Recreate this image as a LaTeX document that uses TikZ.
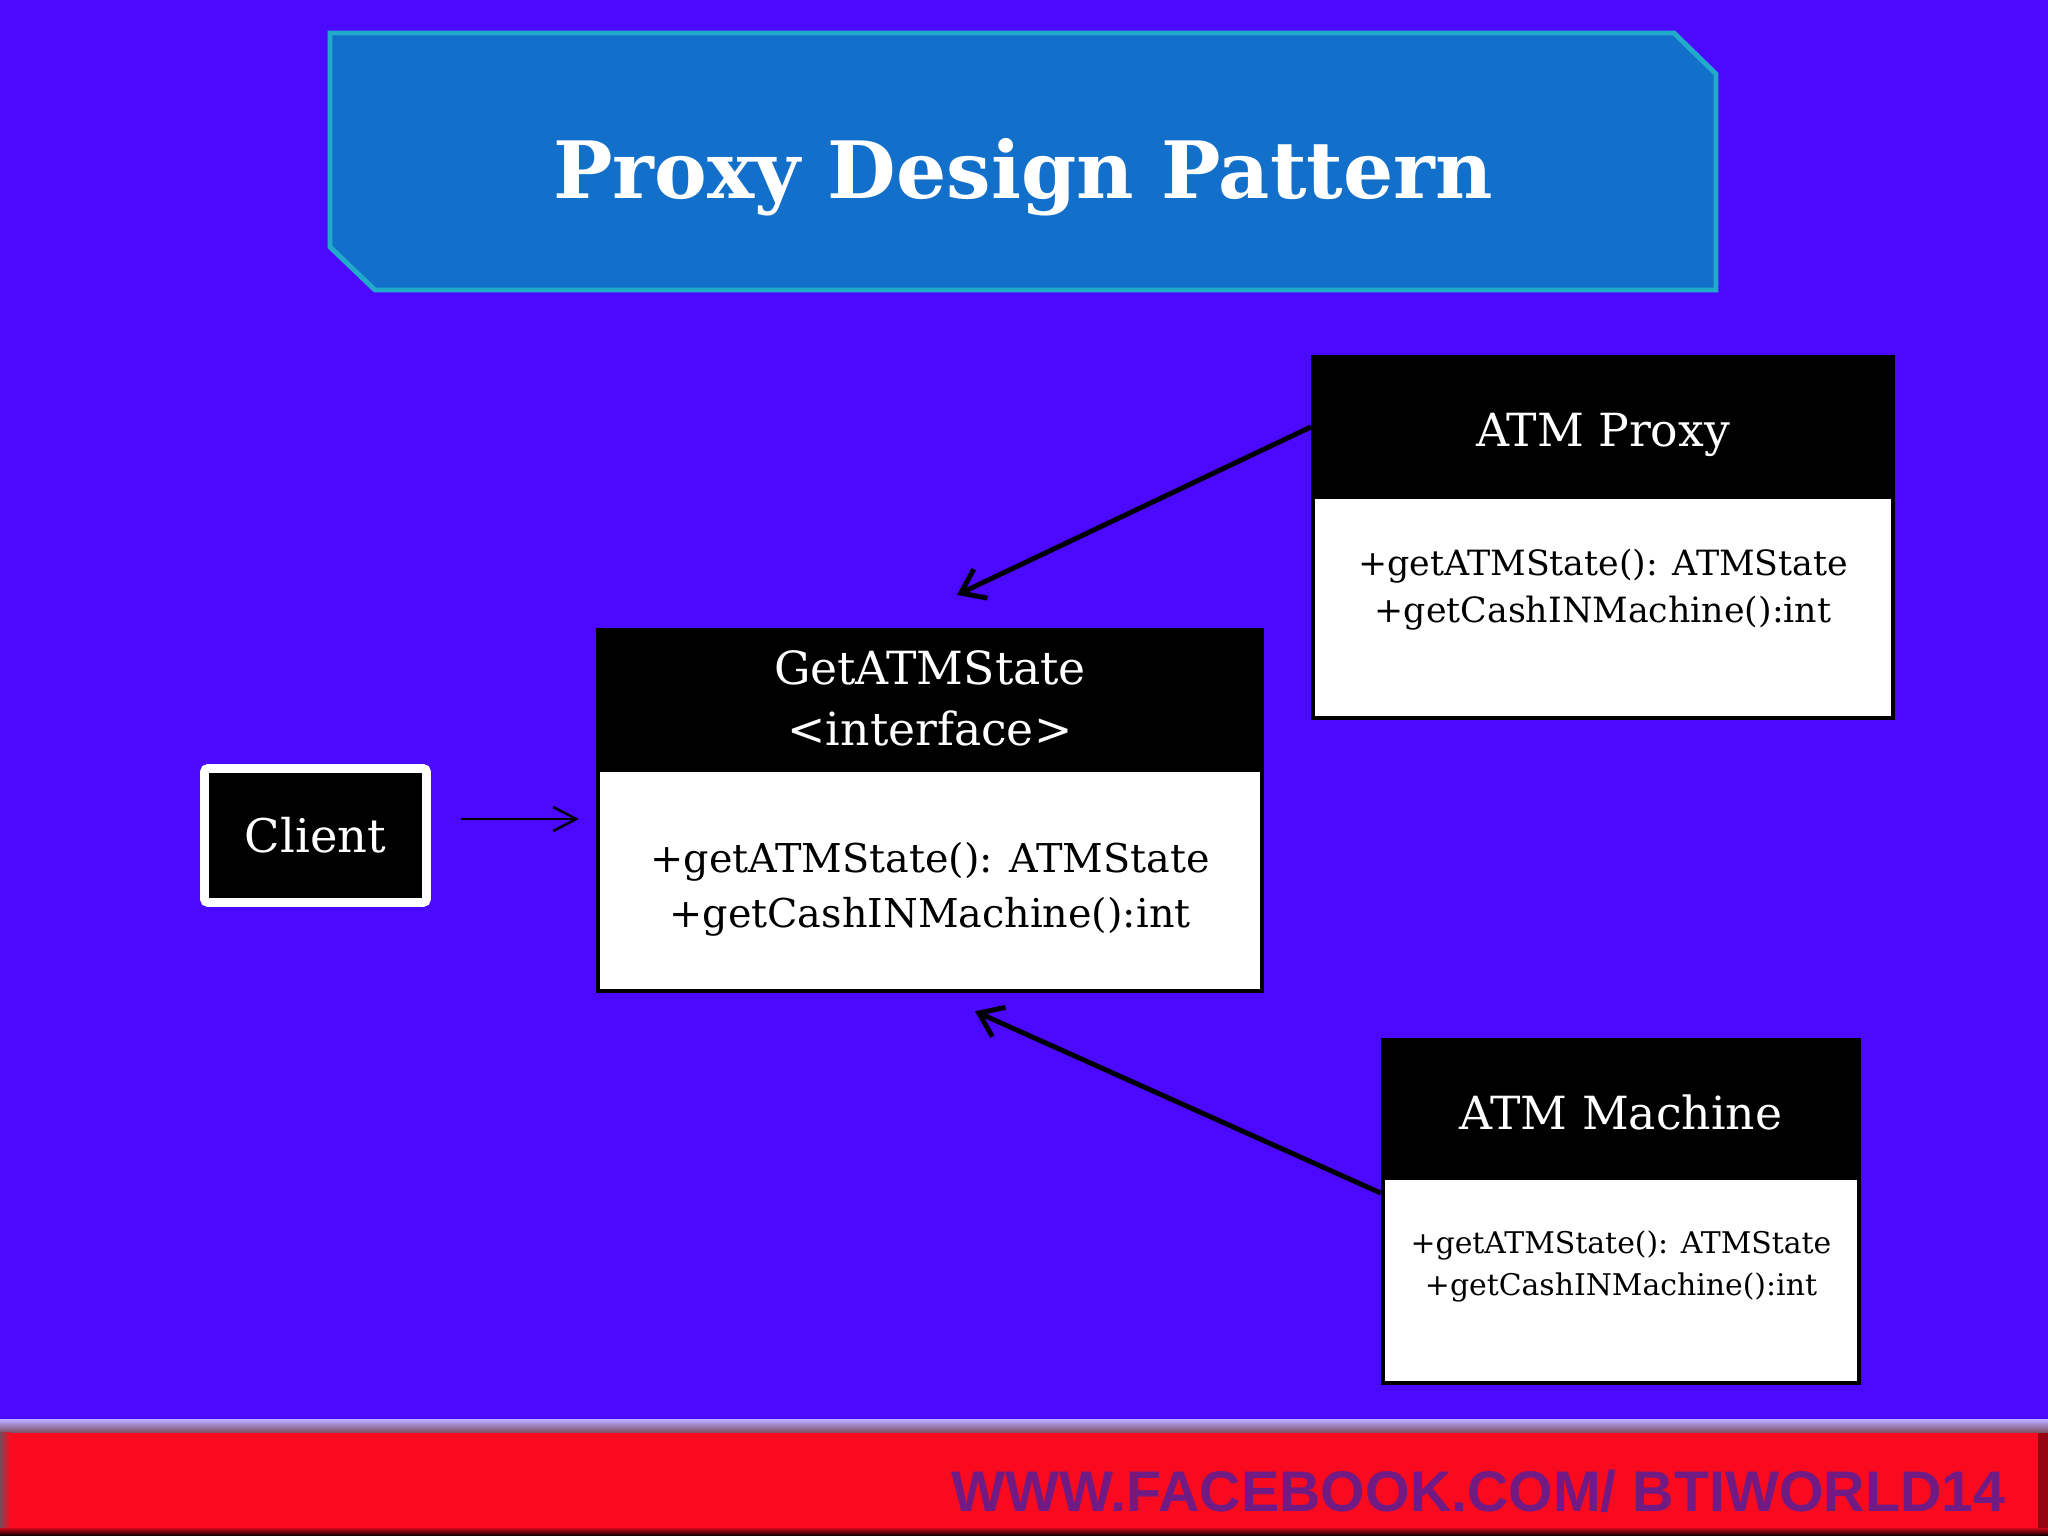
\documentclass[tikz,border=0pt]{standalone}
\usepackage{fontspec}
\setmainfont{DejaVu Serif}
\newfontfamily\footfont{Liberation Sans}
\usepackage{tikz}
\usetikzlibrary{
  arrows.meta,
  positioning,
  calc
}
\definecolor{pdBack}{HTML}{4B0AFF}
\definecolor{pdTitle}{HTML}{126FCA}
\definecolor{pdTitleEdge}{HTML}{22AACB}
\definecolor{pdFoot}{HTML}{FA0A1E}
\definecolor{pdFootHi}{HTML}{B8A8FF}
\definecolor{pdFootLo}{HTML}{7A4A5A}
\definecolor{pdFootText}{HTML}{721A84}
\newcommand{\lowered}[2]{\raisebox{-#1}[\height][\depth]{#2}}
\tikzset{
  classhead/.style={
    draw=black, fill=black, text=white, line width=1.2pt, inner sep=0pt,
    minimum height=1.36cm, font=\fontsize{13}{17.3}\selectfont, align=center
  },
  classbody/.style={
    draw=black, fill=white, line width=1.2pt, inner sep=0pt, minimum height=2.21cm
  },
  methods/.style={align=center, inner sep=0pt, text=black},
  clientbox/.style={
    draw=white, fill=black, text=white, line width=2.5pt, rounded corners=1pt,
    minimum width=2.22cm, minimum height=1.34cm, font=\fontsize{13.2}{15}\selectfont
  },
  titlebox/.style={fill=pdTitle, draw=pdTitleEdge, line width=1.4pt},
  titletext/.style={text=white, font=\bfseries\fontsize{22.5}{26}\selectfont, inner sep=0pt},
  foottext/.style={text=pdFootText, font=\footfont\bfseries\fontsize{16.3}{18}\selectfont, inner sep=0pt},
  uses/.style={-{Straight Barb[length=2.3mm, width=2.4mm]}, line width=0.7pt, black},
  realizes/.style={-{Straight Barb[length=2.2mm, width=3.2mm]}, line width=1.4pt, black}
}
\begin{document}
\begin{tikzpicture}
  % background and margins
  \fill[pdBack] (0,0) rectangle (20.48,15.36);
  \useasboundingbox (0,0) rectangle (20.48,15.36);

  % title banner
  \draw[titlebox] (3.30,15.03) -- (16.74,15.03) -- (17.16,14.62) -- (17.16,12.46)
    -- (3.75,12.46) -- (3.30,12.89) -- cycle;
  \node[titletext, anchor=base] (title) at (10.23,13.375) {Proxy Design Pattern};

  % interface
  \node[classhead, minimum width=6.64cm] (ihead) at (9.30,8.38) {GetATMState\\<interface>};
  \node[classbody, minimum width=6.64cm, below=0pt of ihead] (ibody) {};
  \node[methods, font=\fontsize{11.3}{15.6}\selectfont] (itext) at ([yshift=-0.09cm]ibody.center)
    {+getATMState(): ATMState\\+getCashINMachine():int};

  % proxy
  \node[classhead, minimum width=5.80cm] (phead) at (16.03,11.11) {\lowered{0.1cm}{ATM Proxy}};
  \node[classbody, minimum width=5.80cm, below=0pt of phead] (pbody) {};
  \node[methods, font=\fontsize{9.9}{13.4}\selectfont] (ptext) at ([yshift=0.18cm]pbody.center)
    {+getATMState(): ATMState\\+getCashINMachine():int};

  % real machine
  \node[classhead, minimum width=4.76cm, minimum height=1.34cm] (mhead) at (16.21,4.29) {\lowered{0.05cm}{ATM Machine}};
  \node[classbody, minimum width=4.76cm, minimum height=2.05cm, below=0pt of mhead] (mbody) {};
  \node[methods, font=\fontsize{8.5}{12}\selectfont] (mtext) at ([yshift=0.145cm]mbody.center)
    {+getATMState(): ATMState\\+getCashINMachine():int};

  % client
  \node[clientbox] (client) at (3.155,7.005) {Client};

  % connectors
  \coordinate (ctail) at ([xshift=0.30cm, yshift=0.165cm]client.east);
  \coordinate (chead) at ([xshift=-0.17cm]ctail -| ibody.west);
  \coordinate (ptip) at ([xshift=0.27cm, yshift=0.33cm]ihead.north);
  \coordinate (mtip) at ([xshift=0.45cm, yshift=-0.18cm]ibody.south);
  \coordinate (mtail) at ([yshift=-0.17cm]mbody.north west);
  \draw[uses] (ctail) -- (chead);
  \draw[realizes] ([yshift=-0.02cm]phead.west) -- (ptip);
  \draw[realizes] (mtail) -- (mtip);

  % footer band
  \shade[top color=pdFootHi, bottom color=pdFootLo] (0,1.03) rectangle (20.48,1.16);
  \fill[pdFoot] (0,0.03) rectangle (20.38,1.03);
  \shade[left color=pdFootLo, right color=pdFoot] (0,0.03) rectangle (0.1,1.03);
  \fill[pdFoot!60!black] (20.38,0) rectangle (20.48,1.03);
  \shade[top color=pdFoot!70!black, bottom color=black] (0,0) rectangle (20.48,0.07);
  \node[foottext, anchor=base west] (fbook) at (9.51,0.24) {WWW.FACEBOOK.COM/ BTIWORLD14};
\end{tikzpicture}
\end{document}
